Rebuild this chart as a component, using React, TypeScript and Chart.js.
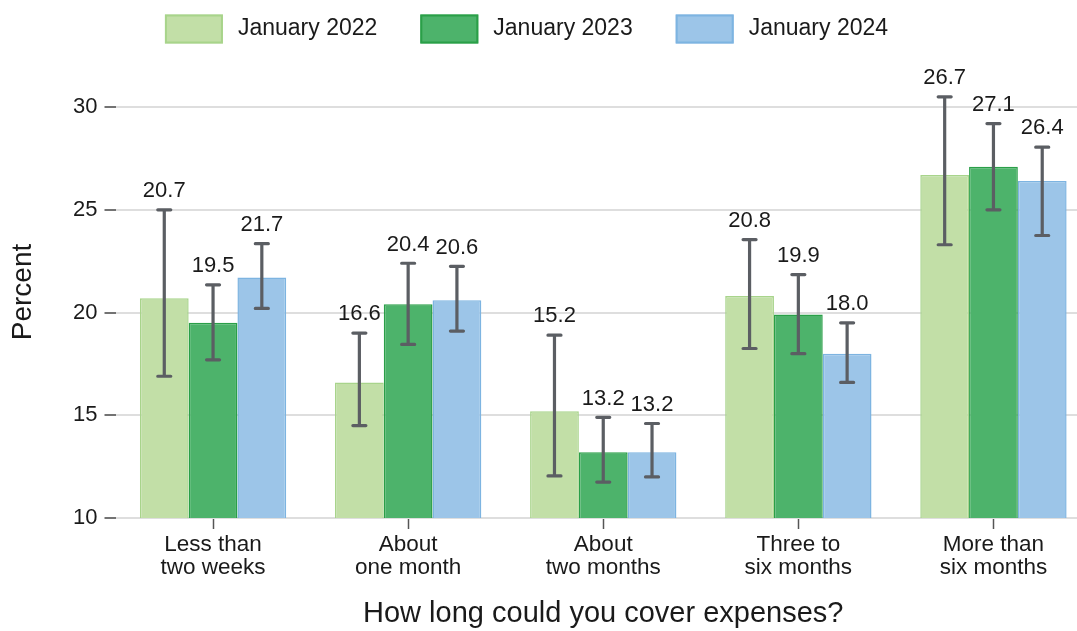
import React, { useEffect, useRef } from "react";
import { Chart, registerables } from "chart.js";

Chart.register(...registerables);

const categories: string[][] = [
  ["Less than", "two weeks"],
  ["About", "one month"],
  ["About", "two months"],
  ["Three to", "six months"],
  ["More than", "six months"],
];

const seriesLabels = ["January 2022", "January 2023", "January 2024"];

const values2022 = [20.7, 16.6, 15.2, 20.8, 26.7];
const values2023 = [19.5, 20.4, 13.2, 19.9, 27.1];
const values2024 = [21.7, 20.6, 13.2, 18.0, 26.4];

const low2022 = [16.9, 14.5, 12.05, 18.25, 23.3];
const high2022 = [25.0, 19.0, 18.9, 23.55, 30.5];
const low2023 = [17.7, 18.45, 11.75, 18.0, 25.0];
const high2023 = [21.35, 22.4, 14.9, 21.85, 29.2];
const low2024 = [20.2, 19.1, 12.0, 16.6, 23.75];
const high2024 = [23.35, 22.25, 14.6, 19.5, 28.05];

const yTicks = [10, 15, 20, 25, 30];

const xTitle = "How long could you cover expenses?";
const yTitle = "Percent";

const FONT = '"Liberation Sans", Arial, Helvetica, sans-serif';
const TEXT = "#1a1a1a";
const ERR = "#5b5e63";

const fills = ["#c2dfa7", "#4db36b", "#9cc5e8"];
const borders = ["#a8d48b", "#2a9f48", "#7db4e1"];

export default function App() {
  const ref = useRef<HTMLCanvasElement>(null);

  useEffect(() => {
    const canvas = ref.current;
    if (!canvas) return;

    const lows = [low2022, low2023, low2024];
    const highs = [high2022, high2023, high2024];

    const errorPlugin = {
      id: "errorBars",
      afterDatasetsDraw(chart: any) {
        const ctx = chart.ctx;
        const y = chart.scales.y;
        chart.data.datasets.forEach((ds: any, di: number) => {
          const meta = chart.getDatasetMeta(di);
          meta.data.forEach((bar: any, i: number) => {
            const x = bar.x;
            const lo = y.getPixelForValue(lows[di][i]);
            const hi = y.getPixelForValue(highs[di][i]);
            ctx.save();
            ctx.strokeStyle = ERR;
            ctx.lineWidth = 3.2;
            ctx.lineCap = "round";
            ctx.beginPath();
            ctx.moveTo(x, lo);
            ctx.lineTo(x, hi);
            ctx.moveTo(x - 6.5, lo);
            ctx.lineTo(x + 6.5, lo);
            ctx.moveTo(x - 6.5, hi);
            ctx.lineTo(x + 6.5, hi);
            ctx.stroke();
            ctx.fillStyle = TEXT;
            ctx.font = `22px ${FONT}`;
            ctx.textAlign = "center";
            ctx.textBaseline = "alphabetic";
            ctx.fillText(Number(ds.data[i]).toFixed(1), x, hi - 12.7);
            ctx.restore();
          });
        });
      },
    };

    const legendPlugin = {
      id: "customLegend",
      afterDraw(chart: any) {
        const ctx = chart.ctx;
        ctx.save();
        ctx.font = `23px ${FONT}`;
        const boxW = 58;
        const boxH = 29;
        const gapText = 15;
        const gapItem = 43;
        const top = 14.5;
        const dsets = chart.data.datasets;
        const widths = dsets.map(
          (ds: any) => boxW + gapText + ctx.measureText(ds.label).width
        );
        const total =
          widths.reduce((a: number, b: number) => a + b, 0) +
          gapItem * (dsets.length - 1);
        let x = 526.5 - total / 2;
        dsets.forEach((ds: any, i: number) => {
          ctx.fillStyle = ds.backgroundColor;
          ctx.fillRect(x, top, boxW, boxH);
          ctx.strokeStyle = ds.borderColor;
          ctx.lineWidth = 2;
          ctx.strokeRect(x + 1, top + 1, boxW - 2, boxH - 2);
          ctx.fillStyle = TEXT;
          ctx.textAlign = "left";
          ctx.textBaseline = "middle";
          ctx.fillText(ds.label, x + boxW + gapText, top + boxH / 2);
          x += widths[i] + gapItem;
        });
        ctx.restore();
      },
    };

    const seriesValues = [values2022, values2023, values2024];

    const chart = new Chart(canvas, {
      type: "bar",
      data: {
        labels: categories,
        datasets: seriesValues.map((vals, i) => ({
          label: seriesLabels[i],
          data: vals,
          backgroundColor: fills[i],
          borderColor: borders[i],
          borderWidth: 1.5,
          categoryPercentage: 0.75,
          barPercentage: 1.0,
        })),
      },
      options: {
        responsive: false,
        animation: false,
        devicePixelRatio: 1,
        layout: { padding: { top: 66, left: 0, right: 0, bottom: 0 } },
        plugins: {
          legend: { display: false },
          tooltip: { enabled: false },
        },
        scales: {
          x: {
            offset: true,
            border: { display: false },
            grid: {
              offset: false,
              drawOnChartArea: false,
              drawTicks: true,
              tickLength: 11,
              tickColor: "#555",
              tickWidth: 1.5,
            },
            ticks: {
              color: TEXT,
              font: { family: FONT, size: 22.5, lineHeight: 1.0 },
              padding: 5,
              maxRotation: 0,
              autoSkip: false,
            },
            title: {
              display: true,
              text: xTitle,
              color: TEXT,
              font: { family: FONT, size: 29, lineHeight: 1.2 },
              padding: { top: 0, bottom: 0 },
            },
            afterFit: (s: any) => {
              s.height = 113;
            },
          },
          y: {
            min: 10,
            max: 32,
            border: { display: false },
            grid: {
              color: "#dedede",
              lineWidth: 2,
              tickLength: 11,
              tickColor: "#444",
              tickWidth: 1.5,
            },
            ticks: {
              color: TEXT,
              font: { family: FONT, size: 22 },
              padding: 7,
            },
            afterBuildTicks: (s: any) => {
              s.ticks = yTicks.map((v) => ({ value: v }));
            },
            title: {
              display: true,
              text: yTitle,
              color: TEXT,
              font: { family: FONT, size: 28, lineHeight: 1.2 },
              padding: { top: 6.5, bottom: 0 },
            },
            afterFit: (s: any) => {
              s.width = 115.5;
            },
          },
        },
      } as any,
      plugins: [errorPlugin, legendPlugin],
    });

    return () => chart.destroy();
  }, []);

  return (
    <div
      style={{
        position: "fixed",
        left: 0,
        top: 0,
        width: 1077,
        height: 631,
        overflow: "hidden",
        background: "#fff",
      }}
    >
      <canvas
        ref={ref}
        width={1091}
        height={631}
        style={{ display: "block", width: 1091, height: 631 }}
      />
    </div>
  );
}
